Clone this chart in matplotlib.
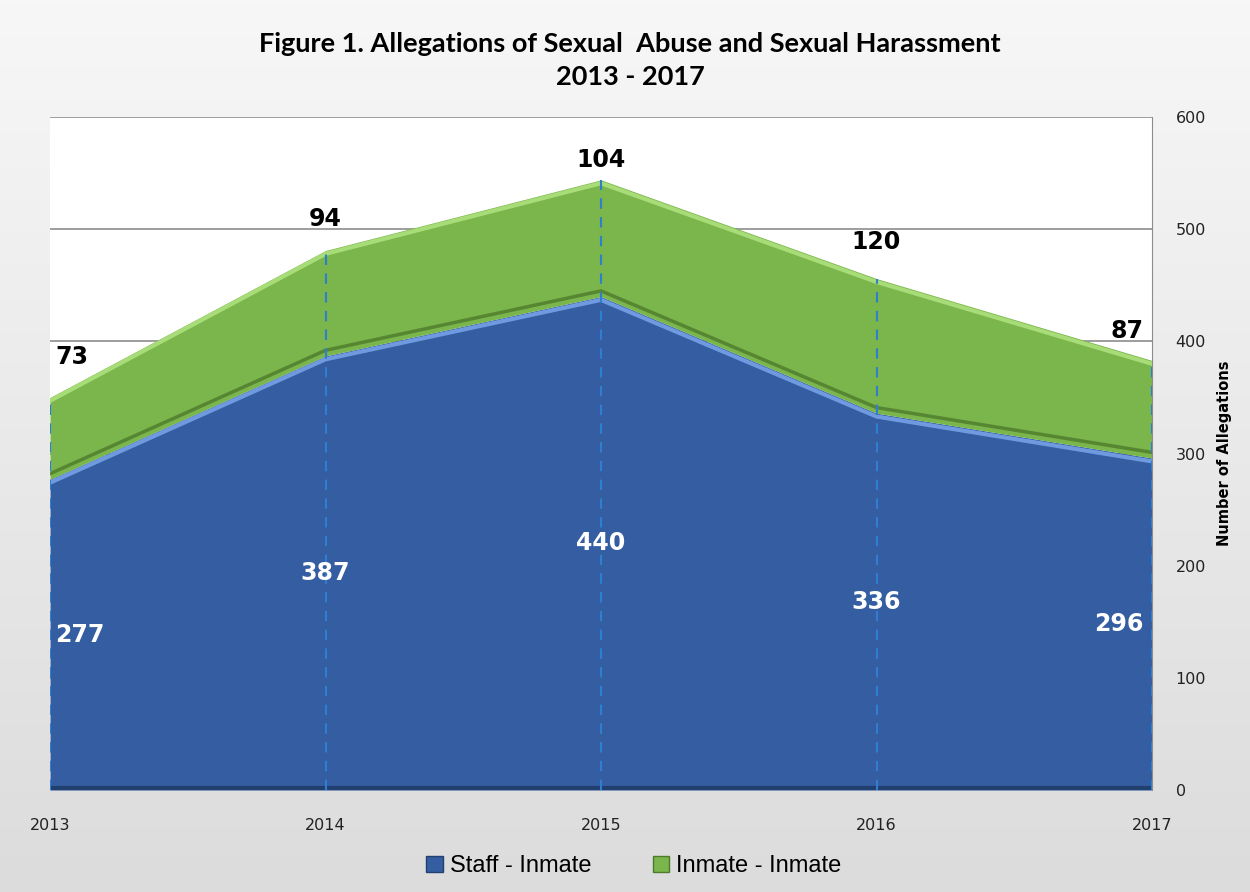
import numpy as np
import matplotlib
matplotlib.use("Agg")
import matplotlib.pyplot as plt
from matplotlib.patches import Patch
from matplotlib.colors import LinearSegmentedColormap

years = ["2013", "2014", "2015", "2016", "2017"]
staff_inmate = [277, 387, 440, 336, 296]
inmate_inmate = [73, 94, 104, 120, 87]
y_ticks = [0, 100, 200, 300, 400, 500, 600]

blue = "#345da2"
green = "#7ab64b"

fig = plt.figure(figsize=(12.5, 8.92), dpi=100)

# background gradient
bg = fig.add_axes([0, 0, 1, 1], zorder=-10)
grad = np.linspace(0, 1, 256).reshape(-1, 1)
cmap = LinearSegmentedColormap.from_list("bg", ["#f7f7f7", "#dcdcdc"])
bg.imshow(grad, aspect="auto", cmap=cmap, extent=[0, 1, 0, 1])
bg.set_axis_off()

ax = fig.add_axes([0.04, 0.1143, 0.8816, 0.7545])
x = np.arange(len(years))
s = np.array(staff_inmate)
t = s + np.array(inmate_inmate)

ax.set_facecolor("white")
for yv in y_ticks[1:]:
    ax.axhline(yv, color="#8c8c8c", lw=1.2, zorder=1)

ax.fill_between(x, 0, s, color=blue, zorder=2, lw=0)
ax.fill_between(x, s, t, color=green, zorder=2, lw=0)
# bevel-like edges
ax.plot(x, t - 3, color="#a8dc78", lw=3, zorder=3)
ax.plot(x, s + 5, color="#4e7a2c", lw=2.5, zorder=3, alpha=0.8)
ax.plot(x, s - 3, color="#6f9ae0", lw=3, zorder=3)
ax.plot(x, np.full_like(x, 2), color="#22406f", lw=3, zorder=3)

for xi, ti in zip(x, t):
    ax.plot([xi, xi], [0, ti], color="#2f7fd0", lw=1.5, ls=(0, (5, 4)), zorder=4)

ax.set_xlim(0, 4)
ax.set_ylim(0, 600)
ax.set_xticks(x)
ax.set_xticklabels(years)
ax.yaxis.tick_right()
ax.yaxis.set_label_position("right")
ax.set_yticks(y_ticks)
ax.tick_params(axis="both", length=0, labelsize=11.5, colors="#222222")
ax.tick_params(axis="x", pad=20)
ax.tick_params(axis="y", pad=17)
for sp in ["left", "bottom", "top"]:
    ax.spines[sp].set_visible(False)
ax.spines["right"].set_color("#8c8c8c")
ax.set_ylabel("Number of Allegations", fontsize=10.5, fontweight="bold",
              labelpad=8)

aligns = ["left", "center", "center", "center", "right"]
offs = [0.02, 0, 0, 0, -0.03]
top_pad_pts = [29, 23, 14, 26, 21]
for xi, si, ii, ti, ha, o, tp in zip(x, staff_inmate, inmate_inmate, t, aligns, offs, top_pad_pts):
    ax.text(xi + o, si / 2, str(si), color="white", fontsize=17, fontweight="bold",
            ha=ha, va="center", zorder=5)
    ax.annotate(str(ii), (xi + o, ti), xytext=(0, tp), textcoords="offset points",
                color="black", fontsize=17, fontweight="bold",
                ha=ha, va="center", zorder=5)

fig.text(0.504, 0.951, "Figure 1. Allegations of Sexual  Abuse and Sexual Harassment",
         ha="center", va="center", fontsize=19.5, fontweight="bold", family="Lato")
fig.text(0.504, 0.914, "2013 - 2017", ha="center", va="center", fontsize=19.5,
         fontweight="bold", family="Lato")

handles = [Patch(facecolor=blue, edgecolor="#22406f", label="Staff - Inmate"),
           Patch(facecolor=green, edgecolor="#4e7a2c", label="Inmate - Inmate")]
fig.legend(handles=handles, loc="center", bbox_to_anchor=(0.507, 0.029), ncol=2,
           frameon=False, handlelength=0.7, handleheight=0.7,
           handletextpad=0.3, columnspacing=2.6,
           prop={"family": "Liberation Sans", "size": 17})

fig.savefig("out.png", dpi=100)
